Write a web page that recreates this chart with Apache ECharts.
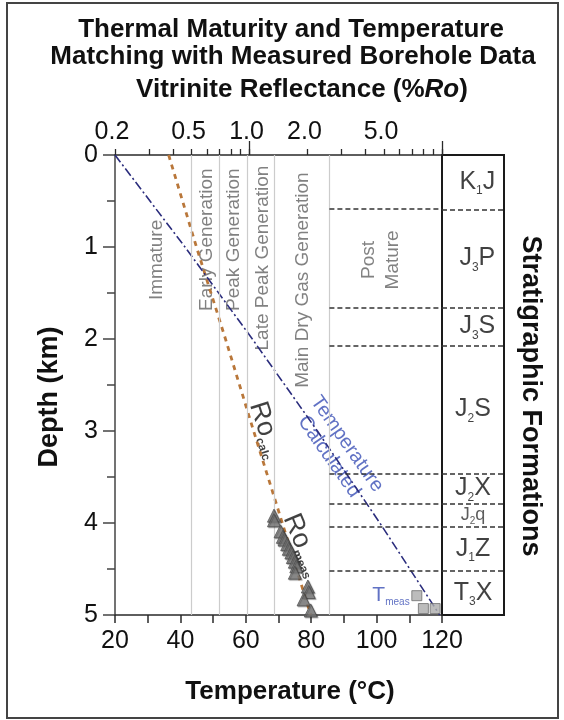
<!DOCTYPE html>
<html><head><meta charset="utf-8">
<script src="https://cdn.jsdelivr.net/npm/echarts@6/dist/echarts.min.js"></script>
<style>html,body{margin:0;padding:0;background:#fff}#c{width:564px;height:720px}</style>
</head><body><div id="c"></div>
<script>
// ---------------- data ----------------
const depthTicks = [0, 1, 2, 3, 4, 5];
const tempTicks = [20, 40, 60, 80, 100, 120];
const roTickLabels = [0.2, 0.5, 1, 2, 5];
const roMinorTicks = [0.2, 0.3, 0.4, 0.5, 0.6, 0.7, 0.8, 0.9, 1, 2, 3, 4, 5, 6, 7, 8, 9, 10];
const roLongTicks = [1, 10];

// calculated temperature profile (deg C vs depth km)
const calcDepth = [0, 1, 2, 3, 4, 5];
const calcTemp = [20, 41.4, 62.0, 81.9, 101.0, 119.3];

// calculated vitrinite reflectance (%Ro vs depth km)
const roCalcDepth = [0, 1, 2, 3, 4, 5];
const roCalcValue = [0.38, 0.53, 0.75, 1.05, 1.48, 2.08];

// measured vitrinite reflectance
const roMeasDepth = [3.92, 3.97, 4.09, 4.15, 4.18, 4.23, 4.28, 4.32, 4.37, 4.42, 4.47, 4.54, 4.69, 4.75, 4.83, 4.95];
const roMeasValue = [1.34, 1.34, 1.45, 1.49, 1.52, 1.57, 1.60, 1.65, 1.68, 1.72, 1.75, 1.72, 2.01, 2.03, 1.91, 2.08];

// measured temperature
const tMeasDepth = [4.79, 4.93, 4.93];
const tMeasTemp = [112.3, 114.3, 117.9];

// maturity zones (%Ro boundaries)
const zoneBounds = [0.5, 0.7, 0.97, 1.35, 2.6];
const zoneNames = ['Immature', 'Early Generation', 'Peak Generation', 'Late Peak Generation', 'Main Dry Gas Generation', 'Post\nMature'];
const zoneLabelRo = [0.33, 0.60, 0.83, 1.17, 1.89, 4.8];
const zoneLabelDepth = [1.14, 0.92, 0.92, 1.12, 1.36, 1.14];

// stratigraphic formations (boundary depths km)
const formationBounds = [0.587, 1.66, 2.07, 3.46, 3.79, 4.04, 4.52];
const formationA = ['K', 'J', 'J', 'J', 'J', 'J', 'J', 'T'];
const formationSub = ['1', '3', '3', '2', '2', '2', '1', '3'];
const formationB = ['J', 'P', 'S', 'S', 'X', 'q', 'Z', 'X'];

// ---------------- chart ----------------
const FONT = "'Liberation Sans', Arial, Helvetica, sans-serif";
const chart = echarts.init(document.getElementById('c'));

const edges = [0].concat(formationBounds, [5]);
const formationMid = formationA.map((_, i) => (edges[i] + edges[i + 1]) / 2);

const axisDark = '#2a2a2a';

const option = {
  animation: false,
  backgroundColor: '#fff',
  textStyle: { fontFamily: FONT },
  grid: [
    { left: 115, top: 155, width: 327, height: 460, outerBoundsMode: 'none', containLabel: false },
    { left: 442, top: 155, width: 62, height: 460, show: true, borderColor: '#1a1a1a', borderWidth: 2,
      backgroundColor: 'transparent', outerBoundsMode: 'none', containLabel: false }
  ],
  xAxis: [
    { // temperature
      type: 'value', gridIndex: 0, position: 'bottom', min: 20, max: 120, interval: 20,
      axisLine: { onZero: false, lineStyle: { color: axisDark, width: 1.5 } },
      axisTick: { length: 8, lineStyle: { color: axisDark, width: 1.5 } },
      minorTick: { show: true, splitNumber: 2, length: 8, lineStyle: { color: axisDark, width: 1.5 } },
      axisLabel: { fontSize: 25, color: '#111', margin: 14, fontFamily: FONT, customValues: tempTicks },
      splitLine: { show: false }
    },
    { // vitrinite reflectance (log)
      type: 'log', logBase: 10, gridIndex: 0, position: 'top', min: 0.2, max: 10,
      axisLine: { onZero: false, lineStyle: { color: axisDark, width: 1.5 } },
      axisTick: { length: 6, customValues: roMinorTicks, lineStyle: { color: axisDark, width: 1.3 } },
      axisLabel: { fontSize: 25, color: '#111', margin: 10, fontFamily: FONT, customValues: roTickLabels,
        formatter: v => Number(v).toFixed(1), padding: [0, 6, 0, 0] },
      splitLine: { show: false }, minorTick: { show: false }
    },
    { // long ticks at 1 and 10
      type: 'log', logBase: 10, gridIndex: 0, position: 'top', min: 0.2, max: 10,
      axisLine: { show: false, onZero: false },
      axisTick: { length: 14, customValues: roLongTicks, lineStyle: { color: axisDark, width: 1.3 } },
      axisLabel: { show: false }, splitLine: { show: false }
    },
    { type: 'value', gridIndex: 1, min: 0, max: 1, show: false }
  ],
  yAxis: [
    {
      type: 'value', gridIndex: 0, inverse: true, min: 0, max: 5, interval: 1,
      axisLine: { show: true, onZero: false, lineStyle: { color: '#444', width: 1.5 } },
      axisTick: { show: true, length: 12, lineStyle: { color: '#444', width: 1.5 } },
      minorTick: { show: true, splitNumber: 2, length: 8, lineStyle: { color: '#444', width: 1.5 } },
      axisLabel: { fontSize: 25, color: '#111', margin: 17, fontFamily: FONT, customValues: depthTicks },
      splitLine: { show: false }
    },
    { type: 'value', gridIndex: 1, inverse: true, min: 0, max: 5, show: false }
  ],
  series: [
    { // zone boundaries + formation boundaries in plot area
      type: 'line', xAxisIndex: 1, yAxisIndex: 0, data: [], silent: true, z: 1,
      markLine: {
        silent: true, symbol: ['none', 'none'], label: { show: false }, animation: false,
        data: zoneBounds.map(v => ({ xAxis: v, lineStyle: { color: '#cccccc', width: 1.2, type: 'solid' } }))
          .concat(formationBounds.map(d => [
            { coord: [zoneBounds[zoneBounds.length - 1], d], lineStyle: { color: '#333', width: 1.6, type: [5, 3] } },
            { coord: [10, d] }
          ]))
      }
    },
    { // formation labels + boundaries in strat column
      type: 'scatter', xAxisIndex: 3, yAxisIndex: 1, silent: true, symbolSize: 1,
      itemStyle: { color: 'rgba(0,0,0,0)' },
      data: formationMid.map((m, i) => ({
        value: [i < 3 ? 0.57 : 0.5, m],
        label: {
          formatter: formationB[i] === 'q'
            ? '{c|' + formationA[i] + '}{cs|' + formationSub[i] + '}{c|' + formationB[i] + '}'
            : '{a|' + formationA[i] + '}{s|' + formationSub[i] + '}{a|' + formationB[i] + '}'
        }
      })),
      label: {
        show: true, position: 'inside', color: '#111',
        rich: {
          a: { fontSize: 25, lineHeight: 30, color: '#111', fontFamily: FONT },
          s: { fontSize: 12, lineHeight: 8, verticalAlign: 'bottom', color: '#111', fontFamily: FONT },
          c: { fontSize: 18, lineHeight: 22, color: '#333', fontFamily: FONT },
          cs: { fontSize: 10, lineHeight: 6, verticalAlign: 'bottom', color: '#333', fontFamily: FONT }
        }
      },
      markLine: {
        silent: true, symbol: ['none', 'none'], label: { show: false },
        lineStyle: { color: '#333', width: 1.6, type: [5, 3] },
        data: formationBounds.map(d => ({ yAxis: d }))
      }
    },
    { // zone labels
      type: 'scatter', xAxisIndex: 1, yAxisIndex: 0, silent: true, symbolSize: 1,
      itemStyle: { color: 'rgba(0,0,0,0)' },
      data: zoneNames.map((n, i) => ({ value: [zoneLabelRo[i], zoneLabelDepth[i]], name: n })),
      label: { show: true, position: 'inside', rotate: 90, formatter: p => p.name,
        fontSize: 19, lineHeight: 24, color: '#626262', fontFamily: FONT }
    },
    { // calculated temperature
      type: 'line', xAxisIndex: 0, yAxisIndex: 0, showSymbol: false, silent: true, z: 4,
      data: calcTemp.map((t, i) => [t, calcDepth[i]]),
      lineStyle: { color: '#2b2d7d', width: 1.6, type: [9, 3, 2, 3] }
    },
    { // calculated Ro
      type: 'line', xAxisIndex: 1, yAxisIndex: 0, showSymbol: false, silent: true, z: 3,
      data: roCalcValue.map((r, i) => [r, roCalcDepth[i]]),
      lineStyle: { color: '#b9773a', width: 2.8, type: [5, 5] }
    },
    { // measured Ro
      type: 'scatter', xAxisIndex: 1, yAxisIndex: 0, symbol: 'triangle', symbolSize: 13, z: 5,
      data: roMeasValue.map((r, i) => [r, roMeasDepth[i]]),
      itemStyle: { color: '#7a7a7a', borderColor: '#4d4d4d', borderWidth: 1,
        shadowColor: 'rgba(0,0,0,0.35)', shadowBlur: 1, shadowOffsetX: 1, shadowOffsetY: 1 }
    },
    { // measured temperature
      type: 'scatter', xAxisIndex: 0, yAxisIndex: 0, symbol: 'rect', symbolSize: 10, z: 5,
      data: tMeasTemp.map((t, i) => [t, tMeasDepth[i]]),
      itemStyle: { color: '#ababab', borderColor: '#6e6e6e', borderWidth: 1 }
    },
    { // annotations on temperature scale
      type: 'scatter', xAxisIndex: 0, yAxisIndex: 0, silent: true, symbolSize: 1,
      itemStyle: { color: 'rgba(0,0,0,0)' },
      label: { show: true, position: 'inside', fontFamily: FONT },
      data: [
        { value: [88.2, 3.21], label: { formatter: 'Temperature\nCalculated', rotate: -55, color: '#3a4fb5', fontSize: 20, lineHeight: 22 } },
        { value: [104.4, 4.79], label: { formatter: '{t|T}{s|meas}', rich: {
          t: { fontSize: 21, lineHeight: 24, color: '#3a4fb5', fontFamily: FONT },
          s: { fontSize: 10, lineHeight: 8, verticalAlign: 'bottom', color: '#3a4fb5', fontFamily: FONT } } } }
      ]
    },
    { // annotations on Ro scale
      type: 'scatter', xAxisIndex: 1, yAxisIndex: 0, silent: true, symbolSize: 1,
      itemStyle: { color: 'rgba(0,0,0,0)' },
      label: { show: true, position: 'inside', fontFamily: FONT,
        rich: {
          r: { fontSize: 27, lineHeight: 30, color: '#111', fontFamily: FONT },
          s: { fontSize: 12, lineHeight: 8, verticalAlign: 'bottom', color: '#111', fontFamily: FONT, fontWeight: 'bold' }
        } },
      data: [
        { value: [1.215, 2.99], label: { formatter: '{r|Ro}{s|calc}', rotate: -72 } },
        { value: [1.89, 4.24], label: { formatter: '{r|Ro}{s|meas}', rotate: -67 } }
      ]
    }
  ],
  graphic: [
    { type: 'rect', shape: { x: 7, y: 3, width: 551, height: 715 }, style: { fill: 'none', stroke: '#444', lineWidth: 2 }, silent: true, z: 0 },
    { type: 'text', x: 291, y: 30, style: { text: 'Thermal Maturity and Temperature', fontSize: 26, fontWeight: 'bold', fontFamily: FONT, fill: '#111', textAlign: 'center', textVerticalAlign: 'middle' } },
    { type: 'text', x: 293, y: 57, style: { text: 'Matching with Measured Borehole Data', fontSize: 26, fontWeight: 'bold', fontFamily: FONT, fill: '#111', textAlign: 'center', textVerticalAlign: 'middle' } },
    { type: 'text', x: 302, y: 90, style: { text: '{a|Vitrinite Reflectance (%}{i|Ro}{a|)}', textAlign: 'center', textVerticalAlign: 'middle', fill: '#111',
      rich: { a: { fontSize: 26, fontWeight: 'bold', fontFamily: FONT, fill: '#111' }, i: { fontSize: 26, fontWeight: 'bold', fontStyle: 'italic', fontFamily: FONT, fill: '#111' } } } },
    { type: 'text', x: 290, y: 692, style: { text: 'Temperature (\u00B0C)', fontSize: 26, fontWeight: 'bold', fontFamily: FONT, fill: '#111', textAlign: 'center', textVerticalAlign: 'middle' } },
    { type: 'text', x: 50, y: 397, rotation: Math.PI / 2, style: { text: 'Depth (km)', fontSize: 27, fontWeight: 'bold', fontFamily: FONT, fill: '#111', textAlign: 'center', textVerticalAlign: 'middle' } },
    { type: 'text', x: 530, y: 396, rotation: -Math.PI / 2, style: { text: 'Stratigraphic Formations', fontSize: 27, fontWeight: 'bold', fontFamily: FONT, fill: '#111', textAlign: 'center', textVerticalAlign: 'middle' } }
  ]
};
chart.setOption(option);
</script>
</body></html>
